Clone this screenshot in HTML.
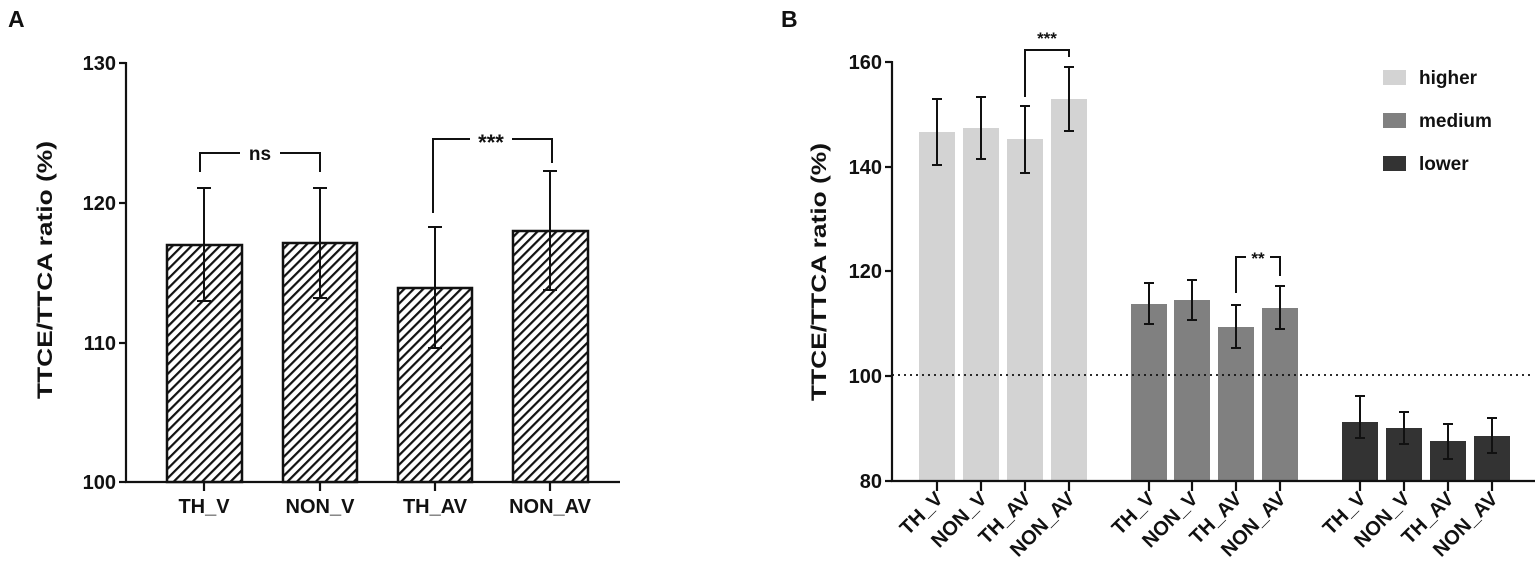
<!DOCTYPE html>
<html><head><meta charset="utf-8"><style>
html,body{margin:0;padding:0;background:#fff;}
svg{display:block;}
text{font-family:"Liberation Sans",Arial,sans-serif;font-weight:bold;fill:#111;}
</style></head><body>
<svg width="1535" height="571" viewBox="0 0 1535 571" xmlns="http://www.w3.org/2000/svg">
<defs>
<pattern id="h" patternUnits="userSpaceOnUse" width="6.7" height="6.7" patternTransform="rotate(45)">
<rect width="6.7" height="6.7" fill="#fff"/>
<rect x="0" y="0" width="2.2" height="6.7" fill="#111"/>
</pattern>
</defs>
<!-- Panel A -->
<text x="8" y="27" font-size="23">A</text>
<g stroke="#111" stroke-width="2.2" fill="none">
<line x1="126" y1="62" x2="126" y2="483"/>
<line x1="125" y1="482" x2="620" y2="482"/>
<line x1="119" y1="63" x2="126" y2="63"/>
<line x1="119" y1="203" x2="126" y2="203"/>
<line x1="119" y1="343" x2="126" y2="343"/>
<line x1="119" y1="482" x2="126" y2="482"/>
<line x1="204" y1="482" x2="204" y2="491"/>
<line x1="320" y1="482" x2="320" y2="491"/>
<line x1="435" y1="482" x2="435" y2="491"/>
<line x1="550" y1="482" x2="550" y2="491"/>
</g>
<g font-size="20" text-anchor="end">
<text x="116" y="70">130</text><text x="116" y="210">120</text><text x="116" y="350">110</text><text x="116" y="489">100</text>
</g>
<g stroke="#111" stroke-width="2.5" fill="url(#h)">
<rect x="167" y="245" width="75" height="237"/>
<rect x="283" y="243" width="74" height="239"/>
<rect x="398" y="288" width="74" height="194"/>
<rect x="513" y="231" width="75" height="251"/>
</g>
<g stroke="#111" stroke-width="2" fill="none">
<path d="M204 188V301M197 188H211M197 301H211"/>
<path d="M320 188V298M313 188H327M313 298H327"/>
<path d="M435 227V348M428 227H442M428 348H442"/>
<path d="M550 171V290M543 171H557M543 290H557"/>
<path d="M200 172V153H240M280 153H320V172"/>
<path d="M433 213V139H470M512 139H552V163"/>
</g>
<text x="260" y="160" font-size="19" text-anchor="middle">ns</text>
<text x="491" y="150" font-size="22" text-anchor="middle">***</text>
<g font-size="20" text-anchor="middle">
<text x="204" y="513">TH_V</text><text x="320" y="513">NON_V</text><text x="435" y="513">TH_AV</text><text x="550" y="513">NON_AV</text>
</g>
<text transform="translate(52,270) rotate(-90)" font-size="21" text-anchor="middle" textLength="258" lengthAdjust="spacingAndGlyphs">TTCE/TTCA ratio (%)</text>

<!-- Panel B -->
<text x="781" y="27" font-size="23">B</text>
<g fill="#d3d3d3">
<rect x="919" y="132" width="36" height="349"/><rect x="963" y="128" width="36" height="353"/>
<rect x="1007" y="139" width="36" height="342"/><rect x="1051" y="99" width="36" height="382"/>
</g>
<g fill="#808080">
<rect x="1131" y="304" width="36" height="177"/><rect x="1174" y="300" width="36" height="181"/>
<rect x="1218" y="327" width="36" height="154"/><rect x="1262" y="308" width="36" height="173"/>
</g>
<g fill="#333">
<rect x="1342" y="422" width="36" height="59"/><rect x="1386" y="428" width="36" height="53"/>
<rect x="1430" y="441" width="36" height="40"/><rect x="1474" y="436" width="36" height="45"/>
</g>
<line x1="892" y1="375" x2="1530" y2="375" stroke="#111" stroke-width="1.8" stroke-dasharray="2,4"/>
<g stroke="#111" stroke-width="2.2" fill="none">
<line x1="892" y1="61" x2="892" y2="482"/>
<line x1="891" y1="481" x2="1535" y2="481"/>
<line x1="885" y1="62" x2="892" y2="62"/><line x1="885" y1="167" x2="892" y2="167"/>
<line x1="885" y1="271" x2="892" y2="271"/><line x1="885" y1="376" x2="892" y2="376"/>
<line x1="885" y1="481" x2="892" y2="481"/>
<path d="M937 481v10M981 481v10M1025 481v10M1069 481v10M1149 481v10M1192 481v10M1236 481v10M1280 481v10M1360 481v10M1404 481v10M1448 481v10M1492 481v10"/>
</g>
<g font-size="20" text-anchor="end">
<text x="882" y="69">160</text><text x="882" y="174">140</text><text x="882" y="278">120</text><text x="882" y="383">100</text><text x="882" y="488">80</text>
</g>
<g stroke="#111" stroke-width="2" fill="none">
<path d="M937 99V165M932 99H942M932 165H942"/>
<path d="M981 97V159M976 97H986M976 159H986"/>
<path d="M1025 106V173M1020 106H1030M1020 173H1030"/>
<path d="M1069 67V131M1064 67H1074M1064 131H1074"/>
<path d="M1149 283V324M1144 283H1154M1144 324H1154"/>
<path d="M1192 280V320M1187 280H1197M1187 320H1197"/>
<path d="M1236 305V348M1231 305H1241M1231 348H1241"/>
<path d="M1280 286V329M1275 286H1285M1275 329H1285"/>
<path d="M1360 396V438M1355 396H1365M1355 438H1365"/>
<path d="M1404 412V444M1399 412H1409M1399 444H1409"/>
<path d="M1448 424V459M1443 424H1453M1443 459H1453"/>
<path d="M1492 418V453M1487 418H1497M1487 453H1497"/>
<path d="M1025 97V50H1069V57"/>
<path d="M1236 293V257H1246M1270 257H1280V276"/>
</g>
<text x="1047" y="44" font-size="17" text-anchor="middle">***</text>
<text x="1258" y="264" font-size="17" text-anchor="middle">**</text>
<rect x="1383" y="70" width="23" height="15" fill="#d3d3d3"/>
<rect x="1383" y="113" width="23" height="15" fill="#808080"/>
<rect x="1383" y="156" width="23" height="15" fill="#333"/>
<g font-size="19"><text x="1419" y="84">higher</text><text x="1419" y="127">medium</text><text x="1419" y="170">lower</text></g>
<g font-size="20" text-anchor="end">
<text transform="translate(944,500) rotate(-45)">TH_V</text>
<text transform="translate(988,500) rotate(-45)">NON_V</text>
<text transform="translate(1032,500) rotate(-45)">TH_AV</text>
<text transform="translate(1076,500) rotate(-45)">NON_AV</text>
<text transform="translate(1156,500) rotate(-45)">TH_V</text>
<text transform="translate(1199,500) rotate(-45)">NON_V</text>
<text transform="translate(1243,500) rotate(-45)">TH_AV</text>
<text transform="translate(1287,500) rotate(-45)">NON_AV</text>
<text transform="translate(1367,500) rotate(-45)">TH_V</text>
<text transform="translate(1411,500) rotate(-45)">NON_V</text>
<text transform="translate(1455,500) rotate(-45)">TH_AV</text>
<text transform="translate(1499,500) rotate(-45)">NON_AV</text>
</g>
<text transform="translate(826,272) rotate(-90)" font-size="21" text-anchor="middle" textLength="258" lengthAdjust="spacingAndGlyphs">TTCE/TTCA ratio (%)</text>
</svg>
</body></html>
